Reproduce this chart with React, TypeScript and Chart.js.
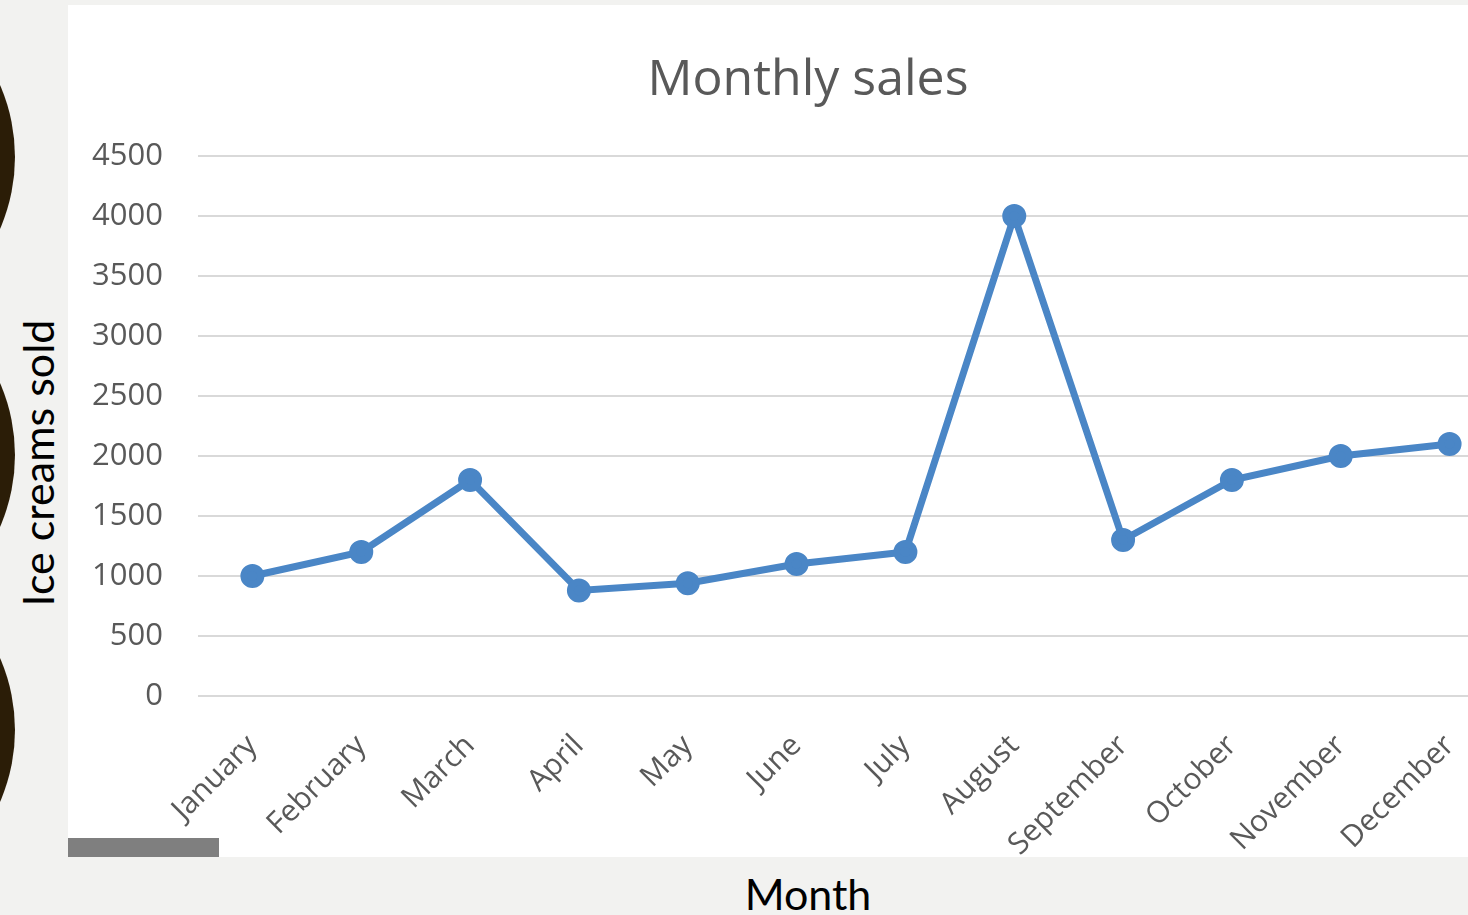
import React, { useEffect, useRef } from "react";
import { Chart, registerables } from "chart.js";

Chart.register(...registerables);

const months = ["January", "February", "March", "April", "May", "June", "July", "August", "September", "October", "November", "December"];
const sales = [1000, 1200, 1800, 880, 940, 1100, 1200, 4000, 1300, 1800, 2000, 2100];
const yMin = 0;
const yMax = 4500;
const yStep = 500;

const chartTitle = "Monthly sales";
const yTitle = "Ice creams sold";
const xTitle = "Month";

export default function App() {
  const canvasRef = useRef<HTMLCanvasElement | null>(null);

  useEffect(() => {
    const canvas = canvasRef.current;
    if (!canvas) return;
    const chart = new Chart(canvas, {
      type: "line",
      data: {
        labels: months,
        datasets: [
          {
            data: sales,
            borderColor: "#4a86c6",
            backgroundColor: "#4a86c6",
            borderWidth: 7,
            pointRadius: 8.5,
            pointBackgroundColor: "#4a86c6",
            pointBorderColor: "#4a86c6",
            tension: 0,
          },
        ],
      },
      options: {
        responsive: false,
        animation: false,
        layout: { padding: { left: 0, right: 44, top: 151, bottom: 0 } },
        plugins: {
          legend: { display: false },
          tooltip: { enabled: false },
          title: { display: false },
        },
        scales: {
          x: {
            offset: true,
            grid: { display: false, drawTicks: false },
            border: { display: false },
            ticks: {
              color: "#595959",
              font: { family: "'Open Sans'", size: 30 },
              maxRotation: 45,
              minRotation: 45,
              padding: 32,
              autoSkip: false,
            },
            afterFit: (s: any) => {
              s.height = 161;
            },
          },
          y: {
            min: yMin,
            max: yMax,
            grid: { color: "#d9d9d9", lineWidth: 2, drawTicks: false },
            border: { display: false },
            ticks: {
              stepSize: yStep,
              color: "#595959",
              font: { family: "'Open Sans'", size: 31 },
              padding: 35,
              callback: (v: any) => String(v),
            },
            afterFit: (s: any) => {
              s.width = 130;
            },
          },
        },
      },
    });
    return () => chart.destroy();
  }, []);

  const circle = (cy: number) => (
    <div
      style={{
        position: "absolute",
        left: 15 - 360,
        top: cy - 180,
        width: 360,
        height: 360,
        borderRadius: "50%",
        background: "#2b1d07",
      }}
    />
  );

  return (
    <div style={{ position: "fixed", left: 0, top: 0, width: 1468, height: 915, background: "#f2f2f0", overflow: "hidden" }}>
      {circle(157)}
      {circle(455)}
      {circle(730)}
      <div style={{ position: "absolute", left: 68, top: 5, width: 1400, height: 852, background: "#ffffff", overflow: "hidden" }}>
        <canvas ref={canvasRef} width={1480} height={852} style={{ display: "block", width: 1480, height: 852 }} />
        <div style={{ position: "absolute", left: 0, top: 833, width: 151, height: 19, background: "#7f7f7f" }} />
      </div>
      <div
        style={{
          position: "absolute",
          left: 808,
          top: 76,
          transform: "translate(-50%, -50%)",
          fontFamily: "'Open Sans'",
          fontSize: 50,
          color: "#595959",
          whiteSpace: "nowrap",
          lineHeight: 1.2,
        }}
      >
        {chartTitle}
      </div>
      <div
        style={{
          position: "absolute",
          left: 37,
          top: 463,
          transform: "translate(-50%, -50%) rotate(-90deg)",
          fontFamily: "Lato",
          fontSize: 43,
          color: "#000",
          whiteSpace: "nowrap",
          lineHeight: 1,
        }}
      >
        {yTitle}
      </div>
      <div
        style={{
          position: "absolute",
          left: 808,
          top: 893,
          transform: "translate(-50%, -50%)",
          fontFamily: "Lato",
          fontSize: 43,
          color: "#000",
          whiteSpace: "nowrap",
          lineHeight: 1,
        }}
      >
        {xTitle}
      </div>
    </div>
  );
}
